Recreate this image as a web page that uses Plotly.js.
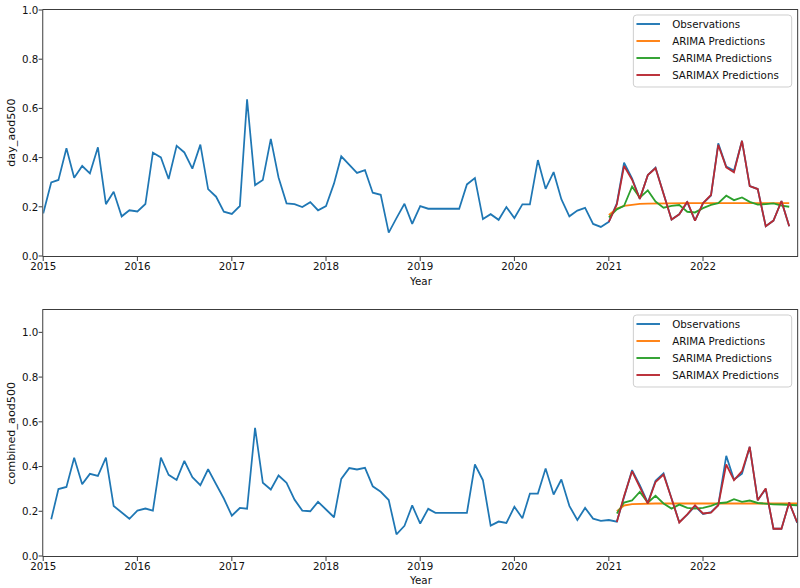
<!DOCTYPE html>
<html>
<head>
<meta charset="utf-8">
<script src="https://cdn.plot.ly/plotly-3.0.1.min.js"></script>
<style>
  html, body { margin: 0; padding: 0; overflow: hidden; background: #fff; }
  /* the figure is laid out slightly wider and condensed to the 800px page */
  #wrap { width: 870px; height: 588px; transform: scaleX(0.9195); transform-origin: 0 0; }
  #chart { width: 870px; height: 588px; }
</style>
</head>
<body>
<div id="wrap"><div id="chart"></div></div>
<script>
// Monthly aerosol optical depth at 500 nm, observations and model forecasts.

// day_aod500 observations, monthly from 2015-01 to 2022-12
const dayObs = [
  0.173, 0.299, 0.309, 0.438, 0.318, 0.366, 0.336, 0.442, 0.211, 0.261, 0.161, 0.186,
  0.181, 0.211, 0.420, 0.401, 0.313, 0.448, 0.421, 0.355, 0.453, 0.272, 0.241, 0.180,
  0.171, 0.203, 0.637, 0.288, 0.309, 0.476, 0.319, 0.214, 0.211, 0.199, 0.219, 0.186,
  0.203, 0.295, 0.405, 0.370, 0.338, 0.349, 0.257, 0.249, 0.095, 0.154, 0.212, 0.131,
  0.203, 0.192, 0.192, 0.192, 0.192, 0.192, 0.291, 0.317, 0.150, 0.170, 0.147, 0.199,
  0.154, 0.210, 0.210, 0.390, 0.273, 0.341, 0.231, 0.161, 0.185, 0.196, 0.130, 0.118,
  0.139, 0.214, 0.379, 0.315, 0.232, 0.329, 0.359, 0.254, 0.148, 0.170, 0.219, 0.144,
  0.214, 0.246, 0.458, 0.363, 0.347, 0.468, 0.284, 0.272, 0.121, 0.144, 0.223, 0.121
];
// day_aod500 forecasts, monthly from 2021-01 to 2022-12
const dayArima = [
  0.167, 0.193, 0.204, 0.209, 0.212, 0.213, 0.214, 0.215, 0.215, 0.215, 0.215, 0.215,
  0.215, 0.215, 0.215, 0.215, 0.215, 0.215, 0.215, 0.215, 0.215, 0.215, 0.215, 0.215
];
const daySarima = [
  0.157, 0.190, 0.204, 0.282, 0.237, 0.267, 0.221, 0.196, 0.204, 0.207, 0.180, 0.177,
  0.195, 0.208, 0.215, 0.245, 0.227, 0.238, 0.220, 0.209, 0.211, 0.214, 0.205, 0.200
];
const daySarimax = [
  0.139, 0.210, 0.366, 0.310, 0.232, 0.329, 0.357, 0.250, 0.148, 0.170, 0.221, 0.144,
  0.215, 0.248, 0.452, 0.360, 0.340, 0.468, 0.284, 0.272, 0.121, 0.144, 0.223, 0.121
];

// combined_aod500 observations, monthly from 2015-02 to 2023-01
const combObs = [
         0.164, 0.299, 0.309, 0.439, 0.321, 0.367, 0.358, 0.440, 0.224, 0.194, 0.166,
  0.203, 0.212, 0.203, 0.440, 0.363, 0.340, 0.425, 0.352, 0.317, 0.388, 0.321, 0.257,
  0.180, 0.215, 0.211, 0.573, 0.328, 0.297, 0.360, 0.327, 0.252, 0.203, 0.200, 0.242,
  0.208, 0.173, 0.345, 0.393, 0.387, 0.394, 0.312, 0.287, 0.250, 0.097, 0.135, 0.226,
  0.145, 0.211, 0.193, 0.193, 0.193, 0.193, 0.193, 0.409, 0.339, 0.136, 0.154, 0.148,
  0.220, 0.169, 0.279, 0.279, 0.391, 0.275, 0.342, 0.224, 0.161, 0.215, 0.167, 0.157,
  0.161, 0.154, 0.268, 0.384, 0.317, 0.238, 0.336, 0.369, 0.257, 0.151, 0.185, 0.223,
  0.188, 0.196, 0.227, 0.448, 0.342, 0.368, 0.488, 0.250, 0.300, 0.122, 0.122, 0.240,
  0.148
];
// combined_aod500 forecasts, monthly from 2021-02 to 2023-01
const combArima = [
  0.200, 0.226, 0.232, 0.234, 0.235, 0.235, 0.235, 0.235, 0.235, 0.235, 0.235, 0.235,
  0.235, 0.235, 0.235, 0.235, 0.235, 0.235, 0.235, 0.235, 0.235, 0.235, 0.235, 0.235
];
const combSarima = [
  0.190, 0.239, 0.249, 0.287, 0.239, 0.269, 0.235, 0.212, 0.230, 0.215, 0.212, 0.215,
  0.224, 0.236, 0.239, 0.254, 0.242, 0.248, 0.237, 0.233, 0.231, 0.230, 0.227, 0.227
];
const combSarimax = [
  0.152, 0.268, 0.379, 0.309, 0.235, 0.331, 0.364, 0.257, 0.150, 0.186, 0.227, 0.190,
  0.194, 0.227, 0.409, 0.339, 0.379, 0.488, 0.249, 0.302, 0.122, 0.122, 0.239, 0.150
];

const seriesNames = ['Observations', 'ARIMA Predictions', 'SARIMA Predictions', 'SARIMAX Predictions'];
const seriesColors = ['#1f77b4', '#ff7f0e', '#2ca02c', '#b92a33'];
const yearTicks = ['2015', '2016', '2017', '2018', '2019', '2020', '2021', '2022'];
const yTickVals = [0, 0.2, 0.4, 0.6, 0.8, 1.0];
const yTickText = ['0.0', '0.2', '0.4', '0.6', '0.8', '1.0'];
const yTitles = ['day_aod500', 'combined_aod500'];
const xTitle = 'Year';

// first-of-month date strings
function months(year, month, count) {
  const out = [];
  for (let k = 0; k < count; k++) {
    const m = month - 1 + k;
    const y = year + Math.floor(m / 12);
    const mm = (m % 12) + 1;
    out.push(y + '-' + String(mm).padStart(2, '0') + '-01');
  }
  return out;
}

const dayObsX = months(2015, 1, dayObs.length);
const dayPredX = months(2021, 1, dayArima.length);
const combObsX = months(2015, 2, combObs.length);
const combPredX = months(2021, 2, combArima.length);

function line(x, y, i, xa, ya) {
  return {
    x: x, y: y, type: 'scatter', mode: 'lines',
    name: seriesNames[i], xaxis: xa, yaxis: ya, showlegend: false,
    line: { color: seriesColors[i], width: 1.9 }
  };
}

const traces = [
  line(dayObsX, dayObs, 0, 'x', 'y'),
  line(dayPredX, dayArima, 1, 'x', 'y'),
  line(dayPredX, daySarima, 2, 'x', 'y'),
  line(dayPredX, daySarimax, 3, 'x', 'y'),
  line(combObsX, combObs, 0, 'x2', 'y2'),
  line(combPredX, combArima, 1, 'x2', 'y2'),
  line(combPredX, combSarima, 2, 'x2', 'y2'),
  line(combPredX, combSarimax, 3, 'x2', 'y2')
];

const FONT = 'DejaVu Sans, sans-serif';
const FS = 11.2;
const TXT = '#111';
const frame = '#333';

// plot area in page pixels (before the horizontal condensing)
const M = { l: 47, r: 3, t: 10, b: 32 };
const H = 588;
const plotBottom = H - M.b;
const plotH = H - M.t - M.b;
const py = function (pix) { return (plotBottom - pix) / plotH; };   // pixel row -> paper y

function xAxis(anchor) {
  return {
    type: 'date', anchor: anchor,
    range: ['2015-01-01', '2023-01-01'],
    tickvals: yearTicks.map(function (y) { return y + '-01-01'; }),
    ticktext: yearTicks,
    ticks: 'outside', ticklen: 4, tickwidth: 1, tickcolor: frame,
    ticklabelstandoff: -4,
    showline: true, linecolor: frame, linewidth: 1, mirror: true,
    showgrid: false, zeroline: false, automargin: false,
    tickfont: { family: FONT, size: FS, color: TXT }
  };
}
function yAxis(anchor, domain, top) {
  return {
    anchor: anchor, domain: domain, range: [0, top],
    tickvals: yTickVals, ticktext: yTickText,
    ticks: 'outside', ticklen: 4, tickwidth: 1, tickcolor: frame,
    ticklabelstandoff: -2,
    showline: true, linecolor: frame, linewidth: 1, mirror: true,
    showgrid: false, zeroline: false, automargin: false,
    tickfont: { family: FONT, size: FS, color: TXT }
  };
}

// legend boxes drawn with shapes and annotations: [box top, box bottom, first row, row step]
const legendRows = [[15, 87, 24, 17], [315, 387, 324, 17]];
const LX = { box0: 0.7827, box1: 0.9927, line0: 0.7868, line1: 0.8180, text: 0.8313 };

const shapes = [];
const annotations = [];

function roundedBox(x0, x1, yTop, yBot) {
  const rx = 0.0045, ry = 0.0055;
  const y1 = py(yTop), y0 = py(yBot);
  return 'M' + (x0 + rx) + ',' + y1 + ' L' + (x1 - rx) + ',' + y1 +
    ' Q' + x1 + ',' + y1 + ' ' + x1 + ',' + (y1 - ry) +
    ' L' + x1 + ',' + (y0 + ry) + ' Q' + x1 + ',' + y0 + ' ' + (x1 - rx) + ',' + y0 +
    ' L' + (x0 + rx) + ',' + y0 + ' Q' + x0 + ',' + y0 + ' ' + x0 + ',' + (y0 + ry) +
    ' L' + x0 + ',' + (y1 - ry) + ' Q' + x0 + ',' + y1 + ' ' + (x0 + rx) + ',' + y1 + ' Z';
}

legendRows.forEach(function (lr) {
  shapes.push({
    type: 'path', xref: 'paper', yref: 'paper', layer: 'above',
    path: roundedBox(LX.box0, LX.box1, lr[0], lr[1]),
    fillcolor: 'rgba(255,255,255,0.85)', line: { color: '#cccccc', width: 1 }
  });
  seriesNames.forEach(function (name, i) {
    const yy = py(lr[2] + i * lr[3]);
    shapes.push({
      type: 'line', xref: 'paper', yref: 'paper', layer: 'above',
      x0: LX.line0, x1: LX.line1, y0: yy, y1: yy,
      line: { color: seriesColors[i], width: 1.9 }
    });
    annotations.push({
      xref: 'paper', yref: 'paper', x: LX.text, y: yy,
      xanchor: 'left', yanchor: 'middle', showarrow: false,
      text: name, font: { family: FONT, size: FS, color: TXT }
    });
  });
});

// axis titles
annotations.push({
  xref: 'paper', yref: 'paper', x: -0.0418, y: py(133), textangle: -90,
  xanchor: 'center', yanchor: 'middle', showarrow: false,
  text: yTitles[0], font: { family: FONT, size: FS, color: TXT }
});
annotations.push({
  xref: 'paper', yref: 'paper', x: -0.0418, y: py(433), textangle: -90,
  xanchor: 'center', yanchor: 'middle', showarrow: false,
  text: yTitles[1], font: { family: FONT, size: FS, color: TXT }
});
annotations.push({
  xref: 'paper', yref: 'paper', x: 0.5, y: py(281), xanchor: 'center', yanchor: 'middle',
  showarrow: false, text: xTitle, font: { family: FONT, size: FS, color: TXT }
});
annotations.push({
  xref: 'paper', yref: 'paper', x: 0.5, y: py(580.5), xanchor: 'center', yanchor: 'middle',
  showarrow: false, text: xTitle, font: { family: FONT, size: FS, color: TXT }
});

const layout = {
  width: 870, height: H,
  margin: M,
  paper_bgcolor: '#fff', plot_bgcolor: '#fff',
  font: { family: FONT, size: FS, color: TXT },
  showlegend: false,
  xaxis: xAxis('y'),
  yaxis: yAxis('x', [py(256), 1], 1.0),
  xaxis2: xAxis('y2'),
  yaxis2: yAxis('x2', [0, py(310)], 1.1),
  shapes: shapes,
  annotations: annotations
};

Plotly.newPlot('chart', traces, layout, { displayModeBar: false, staticPlot: true });
</script>
</body>
</html>
